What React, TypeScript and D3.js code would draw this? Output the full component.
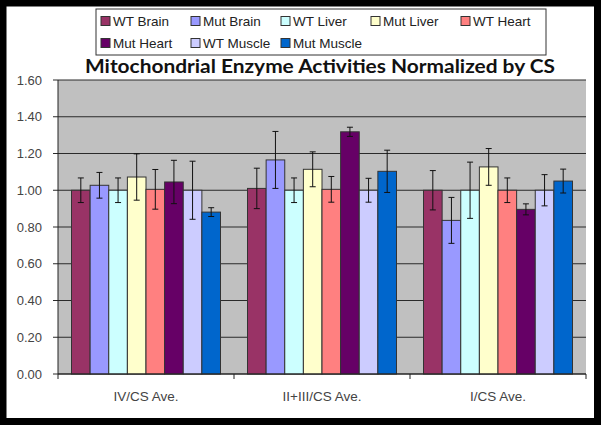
import React from "react";
import * as d3 from "d3";

const categories = ["IV/CS Ave.", "II+III/CS Ave.", "I/CS Ave."];
const seriesNames = ["WT Brain", "Mut Brain", "WT Liver", "Mut Liver", "WT Heart", "Mut Heart", "WT Muscle", "Mut Muscle"];
const seriesColors = ["#993366", "#9999FF", "#CCFFFF", "#FFFFCC", "#FF8080", "#660066", "#CCCCFF", "#0066CC"];

const wtBrain = [1.0, 1.01, 1.0];
const mutBrain = [1.027, 1.165, 0.836];
const wtLiver = [1.0, 1.0, 1.0];
const mutLiver = [1.072, 1.114, 1.127];
const wtHeart = [1.005, 1.005, 1.0];
const mutHeart = [1.045, 1.318, 0.896];
const wtMuscle = [1.0, 1.0, 1.0];
const mutMuscle = [0.881, 1.103, 1.05];

const wtBrainErr = [0.067, 0.11, 0.107];
const mutBrainErr = [0.07, 0.155, 0.125];
const wtLiverErr = [0.067, 0.067, 0.153];
const mutLiverErr = [0.126, 0.095, 0.1];
const wtHeartErr = [0.108, 0.07, 0.067];
const mutHeartErr = [0.118, 0.025, 0.03];
const wtMuscleErr = [0.158, 0.065, 0.085];
const mutMuscleErr = [0.024, 0.115, 0.065];

const yTicks = [0, 0.2, 0.4, 0.6, 0.8, 1.0, 1.2, 1.4, 1.6];
const title = "Mitochondrial Enzyme Activities Normalized by CS";

const values = [wtBrain, mutBrain, wtLiver, mutLiver, wtHeart, mutHeart, wtMuscle, mutMuscle];
const errors = [wtBrainErr, mutBrainErr, wtLiverErr, mutLiverErr, wtHeartErr, mutHeartErr, wtMuscleErr, mutMuscleErr];

export default function App() {
  const W = 601, H = 425;
  const left = 58, right = 586, top = 80, bottom = 374;
  const x0 = d3.scaleBand<string>().domain(categories).range([left, right]).padding(0);
  const x1 = d3.scaleBand<string>().domain(seriesNames).range([0, x0.bandwidth()]).paddingInner(0).paddingOuter(0.725);
  const y = d3.scaleLinear().domain([0, 1.6]).range([bottom, top]);
  const font = "'Liberation Sans', Arial, sans-serif";
  const capW = 3;

  return (
    <svg width={W} height={H} style={{ position: "absolute", left: 0, top: 0, background: "#fff" }}>
      <rect x={0} y={0} width={W} height={H} fill="#fff" />
      {/* plot area */}
      <rect x={left} y={top} width={right - left} height={bottom - top} fill="#C0C0C0" />
      {yTicks.map((t) => (
        <g key={t}>
          <line x1={left - 5} x2={right} y1={y(t)} y2={y(t)} stroke="#2a2a2a" strokeWidth={1} />
          <text x={42} y={y(t)} dy="0.35em" textAnchor="end" fontFamily={font} fontSize={13} fill="#444">
            {t.toFixed(2)}
          </text>
        </g>
      ))}
      {/* bars */}
      {categories.map((c, ci) => (
        <g key={c}>
          {seriesNames.map((s, si) => {
            const bx = (x0(c) as number) + (x1(s) as number);
            const v = values[si][ci];
            return (
              <rect key={s} x={bx} y={y(v)} width={x1.bandwidth()} height={y(0) - y(v)}
                fill={seriesColors[si]} stroke="#333" strokeWidth={1} />
            );
          })}
          {seriesNames.map((s, si) => {
            const cx = (x0(c) as number) + (x1(s) as number) + x1.bandwidth() / 2;
            const v = values[si][ci];
            const e = errors[si][ci];
            return (
              <g key={s + "e"} stroke="#111" strokeWidth={1}>
                <line x1={cx} x2={cx} y1={y(v + e)} y2={y(v - e)} />
                <line x1={cx - capW} x2={cx + capW} y1={y(v + e)} y2={y(v + e)} />
                <line x1={cx - capW} x2={cx + capW} y1={y(v - e)} y2={y(v - e)} />
              </g>
            );
          })}
        </g>
      ))}
      {/* axes */}
      <line x1={left} x2={left} y1={top} y2={bottom} stroke="#222" strokeWidth={1} />
      <line x1={left} x2={right} y1={bottom} y2={bottom} stroke="#222" strokeWidth={1} />
      {[...categories.map((c) => x0(c) as number), right].map((xv, i) => (
        <line key={i} x1={xv} x2={xv} y1={bottom} y2={bottom + 5} stroke="#222" strokeWidth={1} />
      ))}
      {categories.map((c) => (
        <text key={c} x={(x0(c) as number) + x0.bandwidth() / 2} y={401} textAnchor="middle"
          fontFamily={font} fontSize={13.5} fill="#444">{c}</text>
      ))}
      {/* title */}
      <text x={(85 + 555) / 2} y={73} textAnchor="middle" fontFamily="Lato, 'Open Sans', sans-serif"
        fontWeight="bold" fontSize={18.5} fill="#111" textLength={470} lengthAdjust="spacingAndGlyphs">{title}</text>
      {/* legend */}
      <rect x={96} y={9} width={450} height={46} fill="#fff" stroke="#333" strokeWidth={1} />
      {seriesNames.map((s, i) => {
        const col = i < 5 ? i : i - 5;
        const row = i < 5 ? 0 : 1;
        const lx = 101 + col * 90;
        const ly = row === 0 ? 21 : 43;
        return (
          <g key={s}>
            <rect x={lx} y={ly - 4.5} width={9} height={9} fill={seriesColors[i]} stroke="#333" strokeWidth={1} />
            <text x={lx + 12} y={ly} dy="0.36em" fontFamily={font} fontSize={13.5} fill="#222">{s}</text>
          </g>
        );
      })}
      {/* outer frame */}
      <rect x={3} y={3} width={W - 6.5} height={H - 6.5} fill="none" stroke="#000" strokeWidth={7} />
    </svg>
  );
}
